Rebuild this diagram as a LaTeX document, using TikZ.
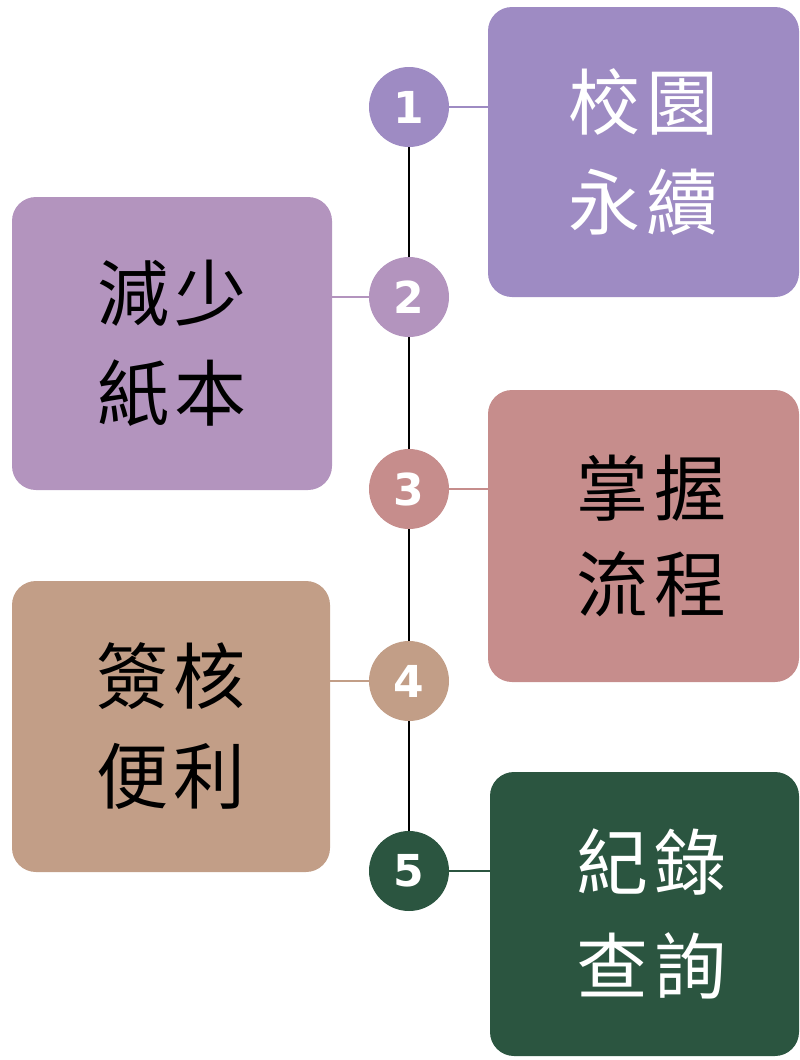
\documentclass[tikz,border=0pt]{standalone}
\usepackage{fontspec}
\newfontfamily\cjk{Noto Sans CJK TC}
\newfontfamily\numfont{DejaVu Sans}
\definecolor{cA}{HTML}{9E8BC3}
\definecolor{cB}{HTML}{B394BE}
\definecolor{cC}{HTML}{C68D8C}
\definecolor{cD}{HTML}{C29E87}
\definecolor{cE}{HTML}{2B5540}
\tikzset{
  card/.style={rectangle, rounded corners=24pt, inner sep=0pt, align=center,
    font=\cjk\fontsize{72}{100}\selectfont},
  dot/.style={circle, minimum size=80pt, inner sep=0pt, text=white,
    font=\numfont\bfseries\fontsize{44}{44}\selectfont},
  spine/.style={line width=2pt, black},
  link/.style={line width=2pt}
}
\begin{document}
\begin{tikzpicture}[x=1pt,y=-1pt]
\useasboundingbox (0,0) rectangle (800,1060);
% boxes
\node[card, fill=cA, text=white, minimum width=311pt, minimum height=290pt] (b1) at (643.5,152) {校\hspace{6pt}園\\永\hspace{6pt}續};
\node[card, fill=cB, text=black, minimum width=320pt, minimum height=293pt] (b2) at (172,343.5) {減\hspace{6pt}少\\紙\hspace{6pt}本};
\node[card, fill=cC, text=black, minimum width=311pt, minimum height=292pt] (b3) at (643.5,536) {\hspace{16pt}掌\hspace{6pt}握\\[-4pt]\hspace{16pt}流\hspace{6pt}程};
\node[card, fill=cD, text=black, minimum width=318pt, minimum height=291pt] (b4) at (171,726.5) {簽\hspace{6pt}核\\便\hspace{6pt}利};
\node[card, fill=cE, text=white, minimum width=309pt, minimum height=284pt] (b5) at (644.5,914) {\hspace{14pt}紀\hspace{6pt}錄\\[4pt]\hspace{14pt}查\hspace{6pt}詢};
% circles
\node[dot, fill=cA] (c1) at (409,107) {1};
\node[dot, fill=cB] (c2) at (409,297) {2};
\node[dot, fill=cC] (c3) at (409,489) {3};
\node[dot, fill=cD] (c4) at (409,681) {4};
\node[dot, fill=cE] (c5) at (409,871) {5};
% spine
\draw[spine] (c1.south) -- (c2.north);
\draw[spine] (c2.south) -- (c3.north);
\draw[spine] (c3.south) -- (c4.north);
\draw[spine] (c4.south) -- (c5.north);
% links
\draw[link, cA] (c1.east) -- (c1.east -| b1.west);
\draw[link, cB] (c2.west) -- (c2.west -| b2.east);
\draw[link, cC] (c3.east) -- (c3.east -| b3.west);
\draw[link, cD] (c4.west) -- (c4.west -| b4.east);
\draw[link, cE] (c5.east) -- (c5.east -| b5.west);
\end{tikzpicture}
\end{document}
